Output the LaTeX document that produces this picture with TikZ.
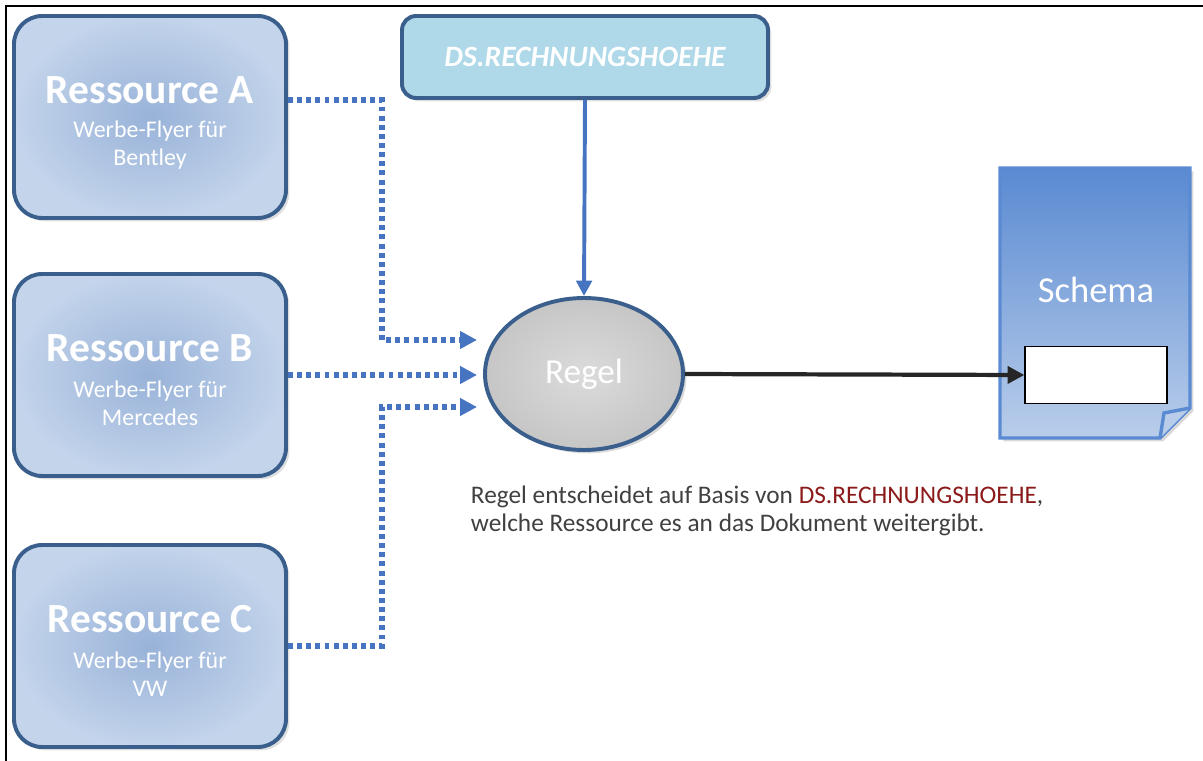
\documentclass[tikz,border=0pt]{standalone}
\usepackage{fontspec}
\setmainfont{Carlito}
\usepackage{tikz}
\usetikzlibrary{positioning, arrows, arrows.meta, shadows, shapes.geometric}

\definecolor{boxline}{HTML}{3A5F8C}
\definecolor{boxin}{HTML}{98B2D8}
\definecolor{boxout}{HTML}{C3D4EB}
\definecolor{dsfill}{HTML}{AFD9E8}
\definecolor{linkblue}{HTML}{4674C0}
\definecolor{docblue}{HTML}{5A8AD2}
\definecolor{docpale}{HTML}{B9CDEA}
\definecolor{textgray}{HTML}{404040}
\definecolor{textred}{HTML}{8B1A1A}

\tikzset{
  resbox/.style={draw=boxline, line width=2.8pt, rounded corners=20pt,
    inner color=boxin, outer color=boxout, minimum width=272*0.025cm,
    minimum height=202*0.025cm, drop shadow={opacity=0.25}},
  dotlink/.style={draw=linkblue, line width=4pt,
    dash pattern=on 3.5pt off 3pt, -{Triangle[length=12pt,width=12pt]}}
}

\begin{document}
\begin{tikzpicture}[x=0.025cm, y=-0.025cm, every node/.style={text=white}]
\useasboundingbox (0,0) rectangle (1203,761);
\clip (0,0) rectangle (1203,761);
\draw[line width=1.4pt] (6,6) rectangle (1230,790);

% resources
\node[resbox] (resA) at (150,117) {};
\node[resbox] (resB) at (150,375) {};
\node[resbox] (resC) at (150,646) {};
\node[font=\fontsize{29.5}{31}\selectfont\bfseries] (titleA) at (150,90) {Ressource A};
\node[font=\fontsize{17}{20}\selectfont, align=center] (subA) at (150,145) {Werbe-Flyer für\\Bentley};
\node[font=\fontsize{29.5}{31}\selectfont\bfseries] (titleB) at (150,348) {Ressource B};
\node[font=\fontsize{17}{20}\selectfont, align=center] (subB) at (150,403) {Werbe-Flyer für\\Mercedes};
\node[font=\fontsize{29.5}{31}\selectfont\bfseries] (titleC) at (150,619) {Ressource C};
\node[font=\fontsize{17}{20}\selectfont, align=center] (subC) at (150,674) {Werbe-Flyer für\\VW};

% data source
\node[draw=boxline, line width=2.8pt, rounded corners=10pt, fill=dsfill,
  minimum width=366*0.025cm, minimum height=82*0.025cm,
  drop shadow={opacity=0.25},
  font=\fontsize{21}{23}\selectfont\bfseries\itshape] (ds) at (585,57) {DS.RECHNUNGSHOEHE};

% rule
\node[ellipse, draw=boxline, line width=2.8pt, inner color=gray!28,
  outer color=gray!45, minimum width=198*0.025cm, minimum height=152*0.025cm,
  drop shadow={opacity=0.3}, font=\fontsize{25}{27}\selectfont] (regel) at (584,374) {Regel};

% schema document
\fill[top color=docblue, bottom color=docpale, drop shadow={opacity=0.3}]
  (1000,168) -- (1190,168) -- (1190,408) -- (1160,438) -- (1000,438) -- cycle;
\draw[docblue, line width=2.4pt] (1000,168) -- (1190,168) -- (1190,408)
  -- (1160,438) -- (1000,438) -- cycle;
\draw[docblue, line width=2.4pt, fill=docpale] (1190,408) -- (1164,413) -- (1160,438);
\node[font=\fontsize{26}{28}\selectfont] (schema) at (1096,290) {Schema};
\node[draw=black, line width=0.8pt, fill=white, minimum width=142*0.025cm,
  minimum height=57*0.025cm] (slot) at (1096,375) {};

% connectors
\coordinate (inA) at (477,340);
\coordinate (inB) at (477,375);
\coordinate (inC) at (477,407);
\draw[dotlink] ([yshift=17*0.025cm]resA.east) -| (382,340) -- (inA);
\draw[dotlink] (resB.east) -- (inB);
\draw[dotlink] (resC.east) -| (382,407) -- (inC);
\draw[linkblue, line width=2.8pt, -{Triangle[length=11pt,width=11pt]}] (ds.south) -- (regel.north);
\draw[black!85, line width=3pt, -{Triangle[length=12pt,width=12pt]}] (regel.east) -- (slot.west);

% caption
\node[text=textgray, anchor=west, align=left, font=\fontsize{18}{19.5}\selectfont] (note) at (466,511)
  {Regel entscheidet auf Basis von \textcolor{textred}{DS.RECHNUNGSHOEHE},\\
   welche Ressource es an das Dokument weitergibt.};
\end{tikzpicture}
\end{document}
